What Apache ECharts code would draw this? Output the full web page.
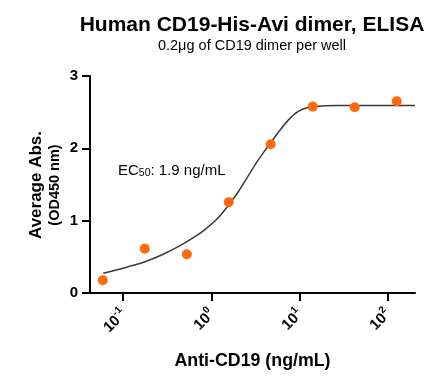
<!DOCTYPE html>
<html>
<head>
<meta charset="utf-8">
<script src="https://cdn.jsdelivr.net/npm/echarts@6/dist/echarts.min.js"></script>
<style>html,body{margin:0;padding:0;background:#fff}#c{width:447px;height:381px}</style>
</head>
<body>
<div id="c"></div>
<script>
// Measured points (3-fold dilution series, ng/mL) and average OD450
const concentrations = [0.0585, 0.1756, 0.527, 1.58, 4.74, 14.22, 42.67, 128];
const absorbance = [0.176, 0.613, 0.535, 1.256, 2.057, 2.577, 2.568, 2.651];
// Fitted curve
const fitX = [0.0593, 0.114, 0.1766, 0.273, 0.422, 0.653, 0.847, 1.202, 1.56, 2.028, 2.63, 3.42, 4.074, 5.768, 7.499, 9.75, 12.65, 19.59, 27.73, 206.5];
const fitY = [0.272, 0.364, 0.433, 0.526, 0.640, 0.779, 0.877, 1.040, 1.210, 1.400, 1.620, 1.840, 1.970, 2.220, 2.390, 2.510, 2.565, 2.588, 2.593, 2.593];
const xTicks = [0.1, 1, 10, 100];
const yTicks = [0, 1, 2, 3];
const titleText = 'Human CD19-His-Avi dimer, ELISA';
const subtitleText = '0.2\u03bcg of CD19 dimer per well';
const xName = 'Anti-CD19 (ng/mL)';
const yName1 = 'Average Abs.';
const yName2 = '(OD450 nm)';

const FONT = 'Arial, "Liberation Sans", Helvetica, sans-serif';
const chart = echarts.init(document.getElementById('c'), null, {renderer: 'canvas'});
const pts = concentrations.map((c, i) => [c, absorbance[i]]);
const curve = fitX.map((c, i) => [c, fitY[i]]);

chart.setOption({
  animation: false,
  backgroundColor: '#fff',
  grid: {left: 90, right: 32, top: 76, bottom: 88, containLabel: false},
  graphic: [
    {type: 'text', x: 252, y: 25, style: {text: titleText, font: 'bold 21px ' + FONT, fill: '#000', align: 'center', verticalAlign: 'middle', textAlign: 'center', textVerticalAlign: 'middle'}},
    {type: 'text', x: 252, y: 46, style: {text: subtitleText, font: '14.5px ' + FONT, fill: '#000', align: 'center', verticalAlign: 'middle', textAlign: 'center', textVerticalAlign: 'middle'}},
    {type: 'text', x: 36, y: 185, rotation: Math.PI / 2, style: {text: yName1, font: 'bold 17px ' + FONT, fill: '#000', align: 'center', verticalAlign: 'middle', textAlign: 'center', textVerticalAlign: 'middle'}},
    {type: 'text', x: 55, y: 185, rotation: Math.PI / 2, style: {text: yName2, font: 'bold 14.5px ' + FONT, fill: '#000', align: 'center', verticalAlign: 'middle', textAlign: 'center', textVerticalAlign: 'middle'}},
    {type: 'text', x: 118, y: 171, style: {
      text: '{a|EC}{s|50}{a|: 1.9 ng/mL}', fill: '#000', align: 'left', verticalAlign: 'middle', textAlign: 'left', textVerticalAlign: 'middle',
      rich: {
        a: {fontFamily: FONT, fontSize: 15, lineHeight: 15, verticalAlign: 'top', fill: '#000'},
        s: {fontFamily: FONT, fontSize: 10.5, lineHeight: 11, padding: [7, 0, 0, 0], verticalAlign: 'bottom', fill: '#000'}
      }
    }}
  ],
  xAxis: {
    type: 'log', logBase: 10, min: 0.0419, max: 206.5,
    name: xName, nameLocation: 'middle', nameGap: 59,
    nameTextStyle: {fontFamily: FONT, fontWeight: 'bold', fontSize: 17.8, color: '#000'},
    axisLine: {show: true, onZero: false, lineStyle: {color: '#000', width: 2}},
    axisTick: {show: true, length: 8, lineStyle: {color: '#000', width: 2}, customValues: xTicks},
    splitLine: {show: false},
    minorTick: {show: false},
    axisLabel: {
      customValues: xTicks, rotate: 45, margin: 18,
      formatter: v => '{b|10}{s|' + Math.round(Math.log10(v)) + '}',
      rich: {
        b: {fontFamily: FONT, fontWeight: 'bold', fontSize: 15, color: '#000', verticalAlign: 'bottom', lineHeight: 18},
        s: {fontFamily: FONT, fontWeight: 'bold', fontSize: 10, color: '#000', verticalAlign: 'top', lineHeight: 18}
      }
    }
  },
  yAxis: {
    type: 'value', min: 0, max: 3, interval: 1,
    axisLine: {show: true, lineStyle: {color: '#000', width: 2}},
    axisTick: {show: true, length: 8, lineStyle: {color: '#000', width: 2}},
    splitLine: {show: false},
    axisLabel: {margin: 12, fontFamily: FONT, fontWeight: 'bold', fontSize: 15, color: '#000',
      formatter: v => yTicks.includes(v) ? String(v) : ''}
  },
  series: [
    {type: 'line', data: curve, smooth: 0.3, showSymbol: false, symbol: 'none',
      lineStyle: {color: '#3a3a3a', width: 1.5}, z: 2, silent: true},
    {type: 'scatter', data: pts, symbol: 'circle', symbolSize: 10,
      itemStyle: {color: '#FF6A0D', opacity: 1}, z: 3}
  ]
});
</script>
</body>
</html>
